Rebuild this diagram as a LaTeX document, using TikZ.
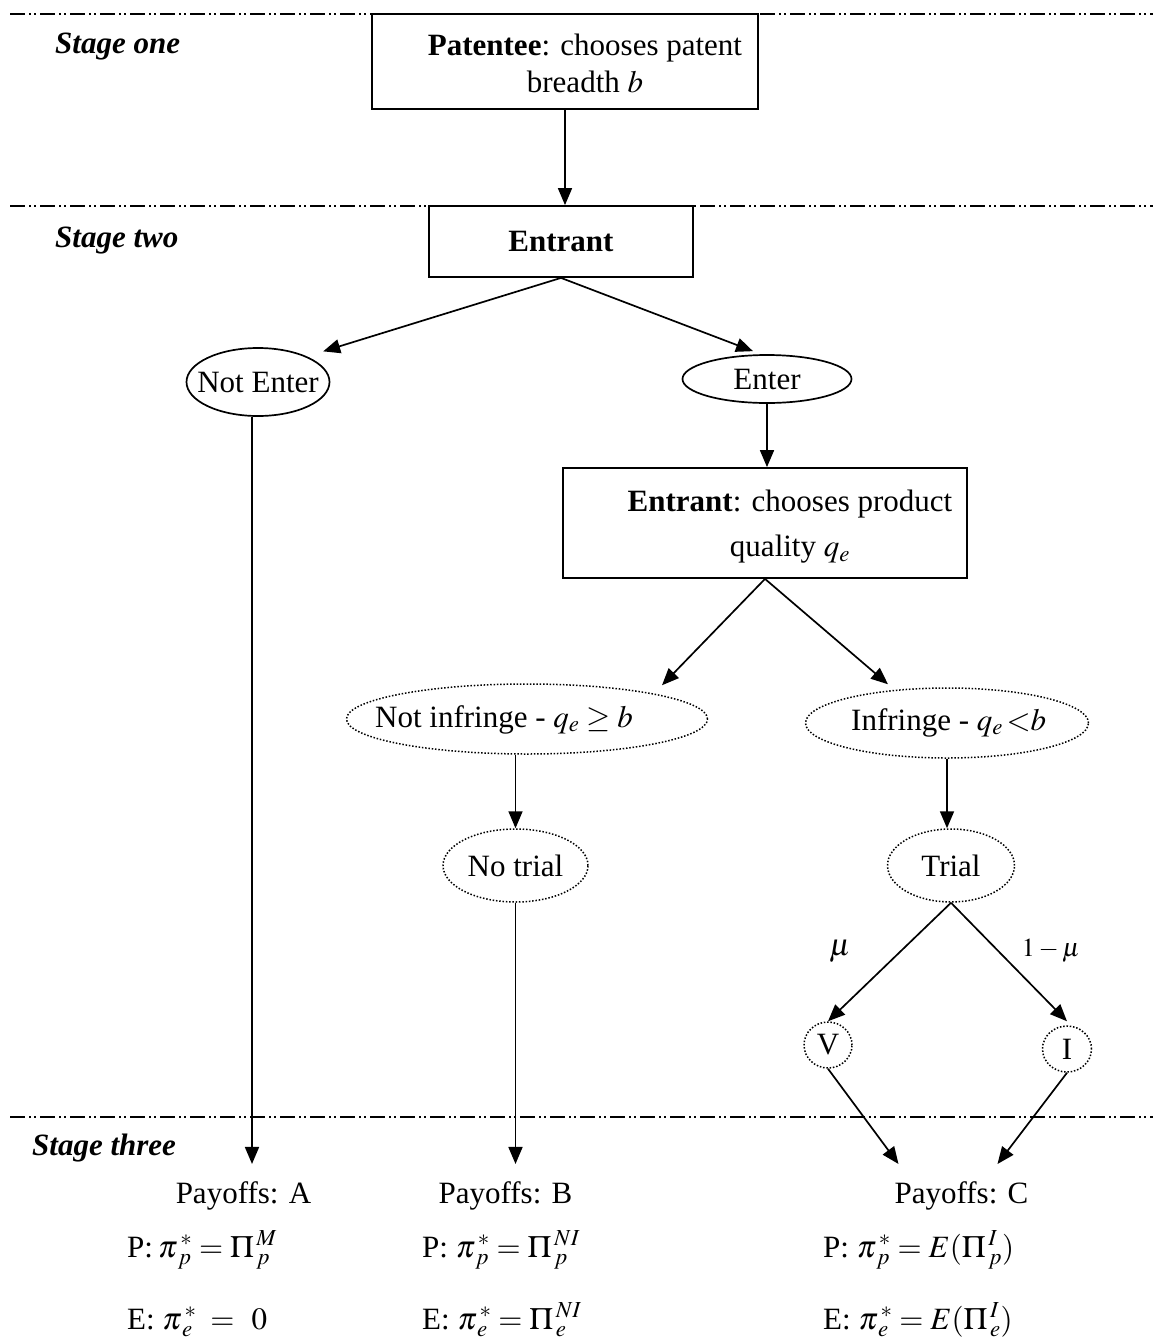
\documentclass[tikz,border=0pt]{standalone}
\usepackage{mathptmx}
\usepackage[no-math]{fontspec}
\setmainfont{Liberation Serif}
\usetikzlibrary{arrows.meta,shapes.geometric}
\begin{document}
\begin{tikzpicture}[x=1pt,y=-1pt,
  every node/.style={font=\fontsize{31}{37}\selectfont, inner sep=0pt},
  box/.style={draw, line width=1.8pt},
  ell/.style={draw, ellipse, line width=1.7pt},
  dotell/.style={draw, ellipse, line width=1.5pt, dash pattern=on 1.5pt off 1.8pt},
  arr/.style={line width=1.7pt, -{Triangle[length=17pt,width=14pt]}},
  stageline/.style={line width=1.8pt, dash pattern=on 15pt off 4pt on 2pt off 3pt on 2pt off 4pt},
  stagelabel/.style={anchor=base west, font=\fontsize{31}{37}\selectfont\bfseries\itshape},
  pay/.style={anchor=base},
  formula/.style={anchor=base west}]
\useasboundingbox (0,0) rectangle (1153,1339);

% stage separators
\draw[stageline] (10,14) -- (1153,14);
\draw[stageline] (10,206) -- (1153,206);
\draw[stageline] (10,1117) -- (1153,1117);

% stage labels
\node[stagelabel] (s1) at (55,53) {Stage one};
\node[stagelabel] (s2) at (55,247) {Stage two};
\node[stagelabel] (s3) at (32,1155) {Stage three};

% boxes
\node[box, minimum width=386, minimum height=95] (pat) at (565,61.5) {};
\node[align=center] (patT) at (585,63) {\textbf{Patentee}: chooses patent\\breadth $b$};
\node[box, minimum width=264, minimum height=71] (ent) at (561,241.5) {\textbf{Entrant}};

\node[ell, minimum width=143, minimum height=68] (ne) at (258,382) {};
\node (neT) at (ne.center) {Not Enter};
\node[ell, minimum width=169, minimum height=48] (en) at (767,379) {};
\node (enT) at (en.center) {Enter};

\node[box, minimum width=404, minimum height=110] (ent2) at (765,523) {};
\node[align=center, font=\fontsize{31}{45}\selectfont] (ent2T) at (790,527) {\textbf{Entrant}: chooses product\\quality $q_e$};

\node[dotell, minimum width=361, minimum height=70] (ni) at (527,719) {};
\node[anchor=base west] (niT) at (375,727) {Not infringe - $q_e \geq b$};
\node[dotell, minimum width=283, minimum height=70] (inf) at (947,723) {};
\node[anchor=base west] (infT) at (851,730) {Infringe - $q_e\,{<}b$};

\node[dotell, minimum width=145, minimum height=73] (nt) at (515.5,865.5) {};
\node (ntT) at (nt.center) {No trial};
\node[dotell, minimum width=127, minimum height=73] (tr) at (951,865.5) {};
\node (trT) at (tr.center) {Trial};

\node[dotell, minimum width=48, minimum height=46] (v) at (828,1045) {};
\node (vT) at (v.center) {V};
\node[dotell, minimum width=49, minimum height=46] (i) at (1067,1049) {};
\node (iT) at (i.center) {I};

\node (mu1) at (840,951) {$\mu$};
\node[font=\fontsize{26}{30}\selectfont] (mu2) at (1051,951) {$1 - \mu$};

% payoffs
\node[pay] (pa) at (243.5,1203) {Payoffs: A};
\node[pay] (pb) at (505.5,1203) {Payoffs: B};
\node[pay] (pc) at (961.5,1203) {Payoffs: C};

\node[formula] (paP) at (127,1257) {P:\,$\pi^{\,*}_{\,p} = \Pi^{\,M}_{\,p}$};
\node[formula] (paE) at (127,1329) {E: $\pi^{\,*}_{\,e}\;=\;\,0$};
\node[formula] (pbP) at (422,1257) {P: $\pi^{\,*}_{\,p} = \Pi^{\,NI}_{\,p}$};
\node[formula] (pbE) at (422,1329) {E: $\pi^{\,*}_{\,e} = \Pi^{\,NI}_{\,e}$};
\node[formula] (pcP) at (823,1257) {P: $\pi^{\,*}_{\,p} = E(\Pi^{\,I}_{\,p})$};
\node[formula] (pcE) at (823,1329) {E: $\pi^{\,*}_{\,e} = E(\Pi^{\,I}_{\,e})$};

% connectors
\draw[arr] (pat.south) -- (pat.south |- ent.north);
\draw[arr] (ent.south) -- ([xshift=14pt,yshift=6pt]ne.north east);
\draw[arr] (ent.south) -- ([xshift=-14pt,yshift=3pt]en.north);
\draw[arr, shorten >=17pt] ([xshift=-6pt]ne.south) -- ([xshift=-6pt]ne.south |- pa.north);
\draw[arr] (en.south) -- (en.south |- ent2.north);
\draw[arr] (ent2.south) -- ([xshift=135pt,yshift=-2pt]ni.north);
\draw[arr] (ent2.south) -- ([xshift=-59pt,yshift=3pt]inf.north);
\draw[arr] (nt.north |- ni.south) -- (nt.north);
\draw[arr, shorten >=17pt] (nt.south) -- (nt.south |- pb.north);
\draw[arr] (inf.south) -- (inf.south |- tr.north);
\draw[arr] (tr.south) -- (v.north);
\draw[arr] (tr.south) -- ([yshift=4pt]i.north);
\draw[arr] (v.south) -- ([xshift=-63pt,yshift=17pt]pc.north);
\draw[arr] (i.south) -- ([xshift=36pt,yshift=17pt]pc.north);
\end{tikzpicture}
\end{document}
